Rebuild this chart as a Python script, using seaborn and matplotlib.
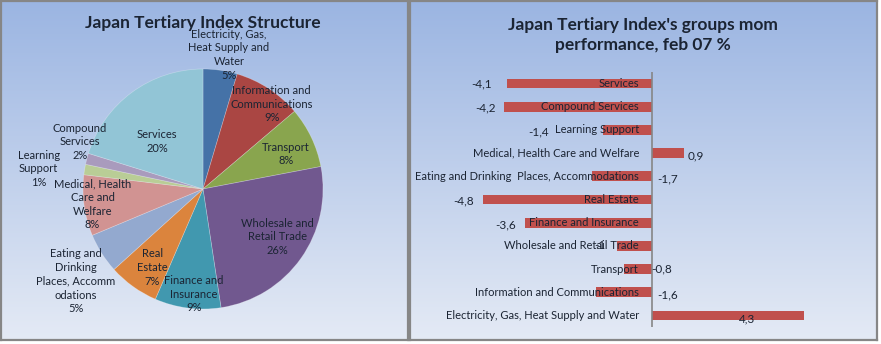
import numpy as np
import pandas as pd
import matplotlib
matplotlib.use("Agg")
import matplotlib.pyplot as plt
import seaborn as sns

# ---- data -------------------------------------------------------------
pie_labels = [
    "Electricity, Gas,\nHeat Supply and\nWater",
    "Information and\nCommunications",
    "Transport",
    "Wholesale and\nRetail Trade",
    "Finance and\nInsurance",
    "Real\nEstate",
    "Eating and\nDrinking\nPlaces, Accomm\nodations",
    "Medical, Health\nCare and\nWelfare",
    "Learning\nSupport",
    "Compound\nServices",
    "Services",
]
pie_shares = [4.6, 9.2, 8.2, 25.6, 8.9, 6.8, 5.4, 8.2, 1.4, 1.5, 20.2]

bar_groups = [
    "Services",
    "Compound Services",
    "Learning Support",
    "Medical, Health Care and Welfare",
    "Eating and Drinking  Places, Accommodations",
    "Real Estate",
    "Finance and Insurance",
    "Wholesale and Retail Trade",
    "Transport",
    "Information and Communications",
    "Electricity, Gas, Heat Supply and Water",
]
bar_values = [-4.1, -4.2, -1.4, 0.9, -1.7, -4.8, -3.6, -1.0, -0.8, -1.6, 4.3]

# ---- styling -----------------------------------------------------------
pie_colors = ["#4572A7", "#AA4643", "#89A54E", "#71588F", "#4198AF", "#DB843D",
              "#93A9CF", "#D19392", "#B9CD96", "#A99BBD", "#92C5D6"]
# label placement: distance from centre (in radii) and angular nudge (degrees)
pie_label_radius = [1.14, 0.91, 0.75, 0.74, 0.88, 0.78, 1.31, 0.93, 1.38, 1.10, 0.55]
pie_label_nudge = [-2.7, -5.9, -2.7, 2.7, 2.4, 2.8, 3.6, 0.0, 2.4, -6.4, 7.6]
value_label_x = [-4.82, -4.72, -3.2, 1.25, 0.45, -5.35, -4.16, -1.47, 0.28, 0.43, 2.7]
value_label_dy = [0.0, 0.05, 0.08, 0.1, 0.1, 0.05, 0.1, 0.0, 0.0, 0.1, 0.15]

sns.set_theme(style="white")
plt.rcParams["font.family"] = ["Lato", "DejaVu Sans"]
text_color = "#1b2433"

W, H = 881, 344
fig = plt.figure(figsize=(W / 100, H / 100), dpi=100)
fig.patch.set_facecolor("white")


def px_box(x0, y0, x1, y1):
    return [x0 / W, (H - y1) / H, (x1 - x0) / W, (y1 - y0) / H]


def panel(x0, y0, x1, y1):
    ax = fig.add_axes(px_box(x0, y0, x1, y1))
    grad = np.linspace(0, 1, 256).reshape(-1, 1)
    top = np.array([0x9B, 0xB5, 0xE2]) / 255
    bot = np.array([0xE4, 0xEA, 0xF5]) / 255
    img = top[None, None, :] * (1 - grad[:, :, None]) + bot[None, None, :] * grad[:, :, None]
    ax.imshow(img, aspect="auto", extent=[0, 1, 0, 1], origin="upper")
    ax.set_xlim(0, 1)
    ax.set_ylim(0, 1)
    ax.set_xticks([])
    ax.set_yticks([])
    for s in ax.spines.values():
        s.set_color("#868686")
        s.set_linewidth(1.6)
    ax.set_zorder(0)
    return ax


panel(1, 1, 408, 340)
panel(410, 1, 877, 340)

# ---- pie: structure ----------------------------------------------------
ax_pie = fig.add_axes(px_box(83, 69, 323, 309))
ax_pie.set_zorder(1)
ax_pie.patch.set_alpha(0)
wedges, _ = ax_pie.pie(pie_shares, colors=pie_colors, startangle=90, counterclock=False,
                       radius=1, wedgeprops=dict(edgecolor=(1, 1, 1, 0.3), linewidth=0.5))
ax_pie.set_xlim(-1, 1)
ax_pie.set_ylim(-1, 1)
ax_pie.set_aspect("equal")
ax_pie.axis("off")

total = sum(pie_shares)
start = 90.0
for lab, share, r, nudge in zip(pie_labels, pie_shares, pie_label_radius, pie_label_nudge):
    span = 360.0 * share / total
    mid = np.deg2rad(start - span / 2 + nudge)
    start -= span
    pct = round(100 * share / total)
    ax_pie.text(r * np.cos(mid), r * np.sin(mid), f"{lab}\n{pct}%",
                ha="center", va="center", fontsize=8, color=text_color,
                linespacing=1.3, clip_on=False)

fig.text(203 / W, 1 - 23 / H, "Japan Tertiary Index Structure", ha="center", va="center",
         fontsize=12.5, fontweight="bold", color=text_color)

# ---- bars: month-on-month performance ----------------------------------
df = pd.DataFrame({"group": bar_groups, "value": bar_values})
ax_bar = fig.add_axes(px_box(475.5, 72, 828.5, 327))
ax_bar.set_zorder(1)
ax_bar.patch.set_alpha(0)
sns.barplot(data=df, x="value", y="group", order=bar_groups, orient="h",
            color="#C0504D", saturation=1, width=0.42, linewidth=0, ax=ax_bar, zorder=1)
ax_bar.set_xlim(-5, 5)
ax_bar.set_ylim(len(bar_groups) - 0.5, -0.5)
ax_bar.set_xlabel("")
ax_bar.set_ylabel("")
ax_bar.set_xticks([])
for s in ["top", "right", "bottom", "left"]:
    ax_bar.spines[s].set_visible(False)
ax_bar.axvline(0, color="#868686", linewidth=1.2, zorder=3)
ax_bar.tick_params(axis="y", length=0, pad=0)
ax_bar.set_yticks(range(len(bar_groups)))
ax_bar.set_yticklabels([])
for i, g in enumerate(bar_groups):
    ax_bar.text(-0.37, i, g, ha="right", va="center", fontsize=8, color=text_color, zorder=4)

for i, (v, lx, dy) in enumerate(zip(bar_values, value_label_x, value_label_dy)):
    txt = f"{v:g}".replace(".", ",")
    ax_bar.text(lx, i + dy, txt, ha="center", va="center", fontsize=8.5,
                color=text_color, zorder=4, clip_on=False)

fig.text(643 / W, 1 - 35 / H, "Japan Tertiary Index's groups mom\nperformance, feb 07 %",
         ha="center", va="center", fontsize=12.5, fontweight="bold", color=text_color,
         linespacing=1.35)

fig.savefig("out.png", dpi=100, facecolor="white")
